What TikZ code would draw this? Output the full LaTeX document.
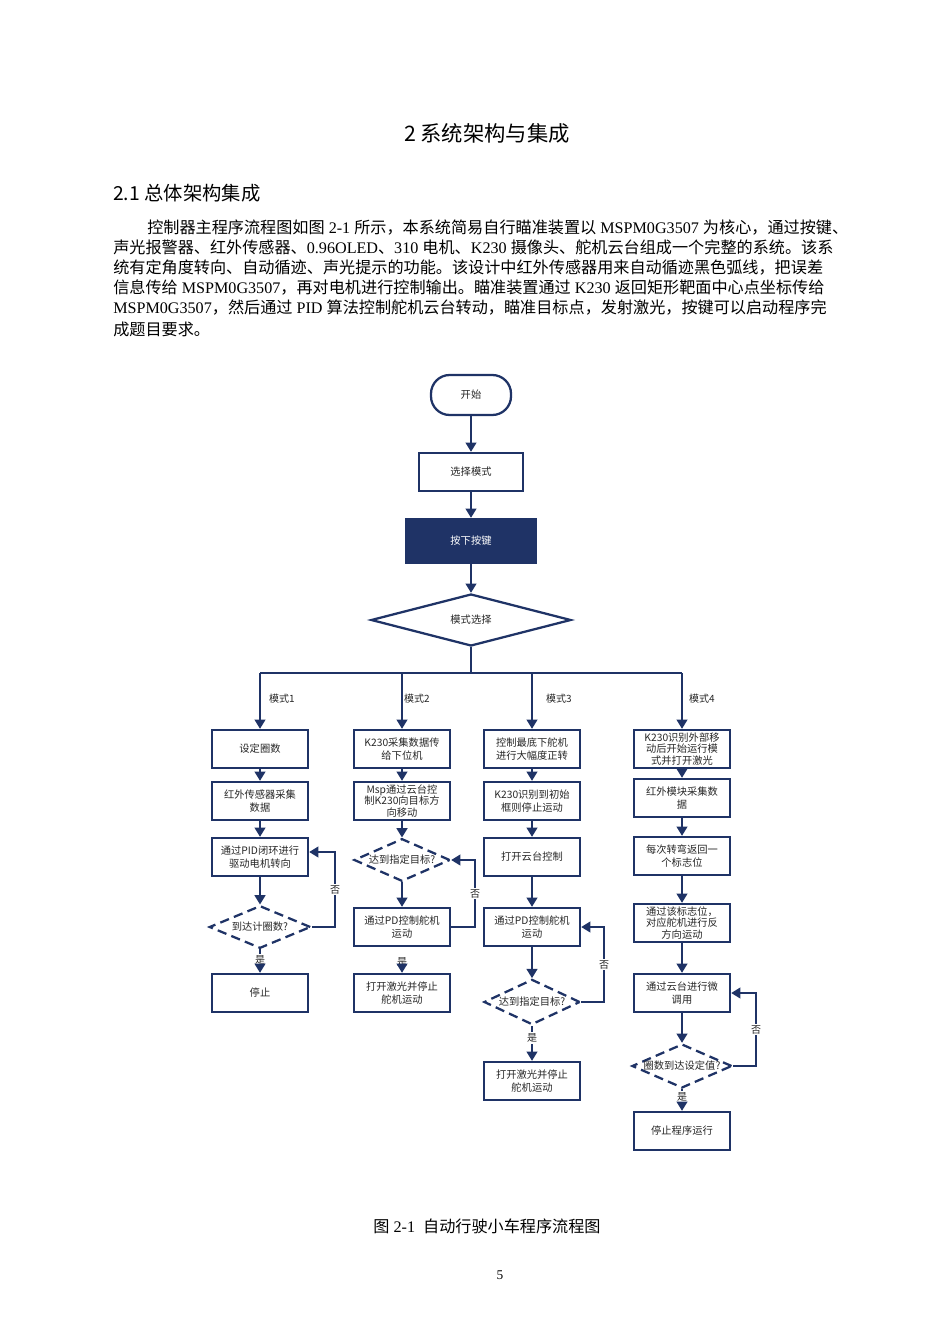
\documentclass[tikz,border=0pt]{standalone}
\usepackage{fontspec}
\setmainfont{Liberation Serif}
\newfontfamily\cjk{Noto Sans CJK SC}
\usetikzlibrary{arrows.meta,shapes.geometric}
\newXeTeXintercharclass\cjkclass
\count255="4E00 \loop \XeTeXcharclass\count255=\cjkclass \ifnum\count255<"9FFF \advance\count255 by 1 \repeat
\count255="3000 \loop \XeTeXcharclass\count255=\cjkclass \ifnum\count255<"303F \advance\count255 by 1 \repeat
\count255="FF00 \loop \XeTeXcharclass\count255=\cjkclass \ifnum\count255<"FFEF \advance\count255 by 1 \repeat
\XeTeXinterchartoks 0 \cjkclass = {\cjk}
\XeTeXinterchartoks 4095 \cjkclass = {\cjk}
\XeTeXinterchartoks \cjkclass 0 = {\rmfamily}
\XeTeXinterchartoks \cjkclass 4095 = {\rmfamily}
\newcommand\mixon{\XeTeXinterchartokenstate=1\relax}
\definecolor{navy}{HTML}{1F3366}
\begin{document}
\begin{tikzpicture}[x=0.75pt,y=-0.75pt,
 body/.style={anchor=base west,inner sep=0,font=\mixon\fontsize{12.1}{13}\selectfont},
 box/.style={draw=navy,line width=1.7pt,minimum width=72pt,minimum height=28.5pt,inner sep=1pt,align=center,font=\cjk\fontsize{7.7}{9.2}\selectfont,text=black!85},
 tight/.style={font=\cjk\fontsize{7.7}{8.6}\selectfont},
 dia/.style={draw=navy,line width=1.7pt,dash pattern=on 7pt off 4pt,diamond,aspect=2.4,inner sep=0,minimum width=76pt,minimum height=32pt,font=\cjk\fontsize{7.7}{9}\selectfont,text=black!85},
 lab/.style={font=\cjk\fontsize{7.5}{8}\selectfont,text=black!85,inner sep=1pt},
 ar/.style={draw=navy,line width=1.7pt,-{Triangle[width=8pt,length=7pt]}},
 ln/.style={draw=navy,line width=1.7pt}]
\path[use as bounding box] (0,0) rectangle (950,1344);
% header
\node[font=\cjk\fontsize{16}{18}\selectfont] (title) at (487,133) {2 系统架构与集成};
\node[anchor=west,inner sep=0,font=\cjk\fontsize{14.5}{16}\selectfont] (sec) at (113,193) {2.1 总体架构集成};
\node[body] (p1) at (147,234) {控制器主程序流程图如图 2-1 所示，本系统简易自行瞄准装置以 MSPM0G3507 为核心，通过按键、};
\node[body] (p2) at (113,254) {声光报警器、红外传感器、0.96OLED、310 电机、K230 摄像头、舵机云台组成一个完整的系统。该系};
\node[body] (p3) at (113,274) {统有定角度转向、自动循迹、声光提示的功能。该设计中红外传感器用来自动循迹黑色弧线，把误差};
\node[body] (p4) at (113,294) {信息传给 MSPM0G3507，再对电机进行控制输出。瞄准装置通过 K230 返回矩形靶面中心点坐标传给};
\node[body] (p5) at (113,314) {MSPM0G3507，然后通过 PID 算法控制舵机云台转动，瞄准目标点，发射激光，按键可以启动程序完};
\node[body] (p6) at (113,335) {成题目要求。};
\node[body,anchor=base] (cap) at (487,1232) {图 2-1\ \ 自动行驶小车程序流程图};
\node[body,anchor=base,font=\fontsize{10}{12}\selectfont] (pg) at (500,1279) {5};
% top
\node[box,rounded corners=14pt,minimum width=60pt,minimum height=30pt] (start) at (471,395) {开始};
\node[box,minimum width=78pt] (sel) at (471,472) {选择模式};
\node[box,fill=navy,text=white,minimum width=97.5pt,minimum height=33pt] (key) at (471,541) {按下按键};
\node[dia,minimum width=150pt,minimum height=39pt,aspect=3.8,dash pattern=] (mode) at (471,620) {模式选择};
\draw[ar] (start) -- (sel);
\draw[ar] (sel) -- (key);
\draw[ar] (key) -- (mode);
\coordinate (bus) at (471,673);
\coordinate (b1) at (260,673);
\coordinate (b4) at (682,673);
\draw[ln] (mode.south) -- (bus);
\draw[ln] (b1) -- (b4);
% col1
\node[box] (a1) at (260,749) {设定圈数};
\node[box] (a2) at (260,801) {红外传感器采集\\数据};
\node[box] (a3) at (260,857) {通过PID闭环进行\\驱动电机转向};
\node[dia] (ad) at (260,927) {到达计圈数?};
\node[lab] (ay) at (260,960) {是};
\node[box] (a4) at (260,993) {停止};
\node[lab] (m1) at (282,699) {模式1};
\draw[ar] (b1) -- (a1);
\draw[ar] (a1) -- (a2);
\draw[ar] (a2) -- (a3);
\draw[ar] (a3) -- (ad);
\draw[ln] (ad) -- (ay);
\draw[ar] (ay) -- (a4);
\draw[ar] (ad.east) -- (335,927) -- node[lab,fill=white,pos=0.5]{否} (335,852) -- (a3.east |- 0,852);
% col2
\node[box] (c1) at (402,749) {K230采集数据传\\给下位机};
\node[box,tight] (c2) at (402,801) {Msp通过云台控\\制K230向目标方\\向移动};
\node[dia,minimum width=72pt] (cd) at (402,860) {达到指定目标?};
\node[box] (c3) at (402,927) {通过PD控制舵机\\运动};
\node[lab] (cy) at (402,962) {是};
\node[box] (c4) at (402,993) {打开激光并停止\\舵机运动};
\node[lab] (m2) at (417,699) {模式2};
\draw[ar] (402,673) -- (c1);
\draw[ar] (c1) -- (c2);
\draw[ar] (c2) -- (cd);
\draw[ar] (cd) -- (c3);
\draw[ar] (cy) -- (c4);
\draw[ar] (c3.east) -- (475,927) -- node[lab,fill=white,pos=0.5]{否} (475,860) -- (cd.east);
% col3
\node[box] (d1) at (532,749) {控制最底下舵机\\进行大幅度正转};
\node[box] (d2) at (532,801) {K230识别到初始\\框则停止运动};
\node[box] (d3) at (532,857) {打开云台控制};
\node[box] (d4) at (532,927) {通过PD控制舵机\\运动};
\node[dia,minimum width=72pt,minimum height=34pt] (dd) at (532,1002) {达到指定目标?};
\node[lab,fill=white] (dy) at (532,1038) {是};
\node[box] (d5) at (532,1081) {打开激光并停止\\舵机运动};
\node[lab] (m3) at (559,699) {模式3};
\draw[ar] (532,673) -- (d1);
\draw[ar] (d1) -- (d2);
\draw[ar] (d2) -- (d3);
\draw[ar] (d3) -- (d4);
\draw[ar] (d4) -- (dd);
\draw[ln] (dd) -- (dy);
\draw[ar] (dy) -- (d5);
\draw[ar] (dd.east) -- (604,1002) -- node[lab,fill=white,pos=0.5]{否} (604,927) -- (d4.east);
% col4
\node[box,tight] (e1) at (682,749) {K230识别外部移\\动后开始运行模\\式并打开激光};
\node[box] (e2) at (682,798) {红外模块采集数\\据};
\node[box] (e3) at (682,856) {每次转弯返回一\\个标志位};
\node[box,tight] (e4) at (682,923) {通过该标志位，\\对应舵机进行反\\方向运动};
\node[box] (e5) at (682,993) {通过云台进行微\\调用};
\node[dia,minimum width=75pt,minimum height=33pt] (ed) at (682,1066) {圈数到达设定值?};
\node[lab,fill=white] (ey) at (682,1097) {是};
\node[box] (e6) at (682,1131) {停止程序运行};
\node[lab] (m4) at (702,699) {模式4};
\draw[ar] (b4) -- (e1);
\draw[ar] (e1) -- (e2);
\draw[ar] (e2) -- (e3);
\draw[ar] (e3) -- (e4);
\draw[ar] (e4) -- (e5);
\draw[ar] (e5) -- (ed);
\draw[ln] (ed) -- (ey);
\draw[ar] (ey) -- (e6);
\draw[ar] (ed.east) -- (756,1066) -- node[lab,fill=white,pos=0.5]{否} (756,993) -- (e5.east);
\end{tikzpicture}
\end{document}
